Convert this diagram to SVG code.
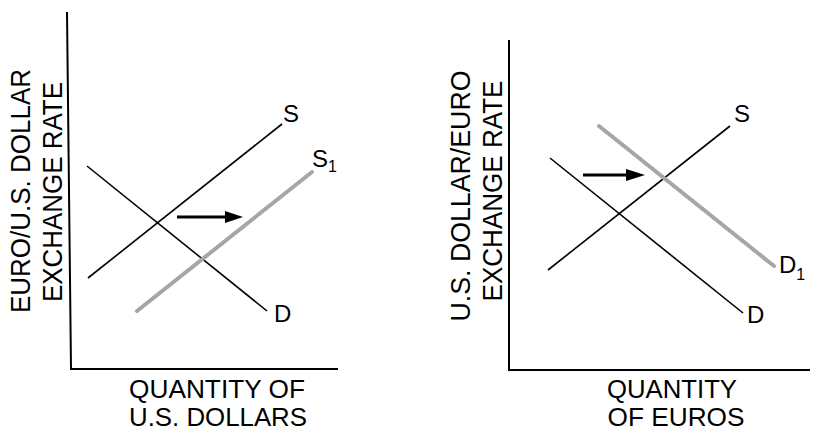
<svg xmlns="http://www.w3.org/2000/svg" width="815" height="432" viewBox="0 0 815 432">
<style>
text{font-family:"Liberation Sans",Arial,sans-serif;fill:#000}
.lab{font-size:27px}
.bl{font-size:25px}
.cl{font-size:24px}
.sub{font-size:16px}
.ax{stroke:#000;stroke-width:2;fill:none}
.cv{stroke:#000;stroke-width:1.6;fill:none}
.sh{stroke:#a6a6a6;stroke-width:4;fill:none;stroke-linecap:round}
.ar{stroke:#000;stroke-width:3}
</style>
<rect width="815" height="432" fill="#fff"/>
<g id="left-axes">
<polyline class="ax" points="67,12 71,369 338,369"/>
<text class="lab" transform="translate(29.5,191) rotate(-90)" text-anchor="middle" textLength="244" lengthAdjust="spacingAndGlyphs">EURO/U.S. DOLLAR</text>
<text class="lab" transform="translate(62,192) rotate(-90)" text-anchor="middle" textLength="220" lengthAdjust="spacingAndGlyphs">EXCHANGE RATE</text>
<text class="bl" x="217" y="398" text-anchor="middle" textLength="176" lengthAdjust="spacingAndGlyphs">QUANTITY OF</text>
<text class="bl" x="218" y="426" text-anchor="middle" textLength="178" lengthAdjust="spacingAndGlyphs">U.S. DOLLARS</text>
</g>
<g id="left-S"><line class="cv" x1="88" y1="278" x2="282" y2="124"/><text class="cl" x="283" y="122">S</text></g>
<g id="left-D"><line class="cv" x1="87" y1="166" x2="267" y2="311"/><text class="cl" x="274" y="322">D</text></g>
<g id="left-S1"><line class="sh" x1="137" y1="311" x2="312" y2="172"/><text class="cl" x="312" y="167">S<tspan class="sub" dy="5">1</tspan></text></g>
<g id="right-axes">
<polyline class="ax" points="509,40 509,370 810,370"/>
<text class="lab" transform="translate(470,196) rotate(-90)" text-anchor="middle" textLength="251" lengthAdjust="spacingAndGlyphs">U.S. DOLLAR/EURO</text>
<text class="lab" transform="translate(501.5,191) rotate(-90)" text-anchor="middle" textLength="221" lengthAdjust="spacingAndGlyphs">EXCHANGE RATE</text>
<text class="bl" x="672" y="398" text-anchor="middle" textLength="130" lengthAdjust="spacingAndGlyphs">QUANTITY</text>
<text class="bl" x="676" y="426" text-anchor="middle" textLength="137" lengthAdjust="spacingAndGlyphs">OF EUROS</text>
</g>
<g id="right-S"><line class="cv" x1="548" y1="270" x2="730" y2="126"/><text class="cl" x="734" y="122">S</text></g>
<g id="right-D"><line class="cv" x1="550" y1="158" x2="743" y2="313"/><text class="cl" x="747" y="323">D</text></g>
<g id="right-D1"><line class="sh" x1="599" y1="126" x2="774" y2="266"/><text class="cl" x="779" y="273">D<tspan class="sub" dy="7">1</tspan></text></g>
<g id="connectors">
<line class="ar" x1="177" y1="217" x2="227" y2="217"/>
<polygon points="225,211 243,217 225,223"/>
<line class="ar" x1="583" y1="175" x2="628" y2="175"/>
<polygon points="626,169 645,175 626,181"/>
</g>
</svg>
